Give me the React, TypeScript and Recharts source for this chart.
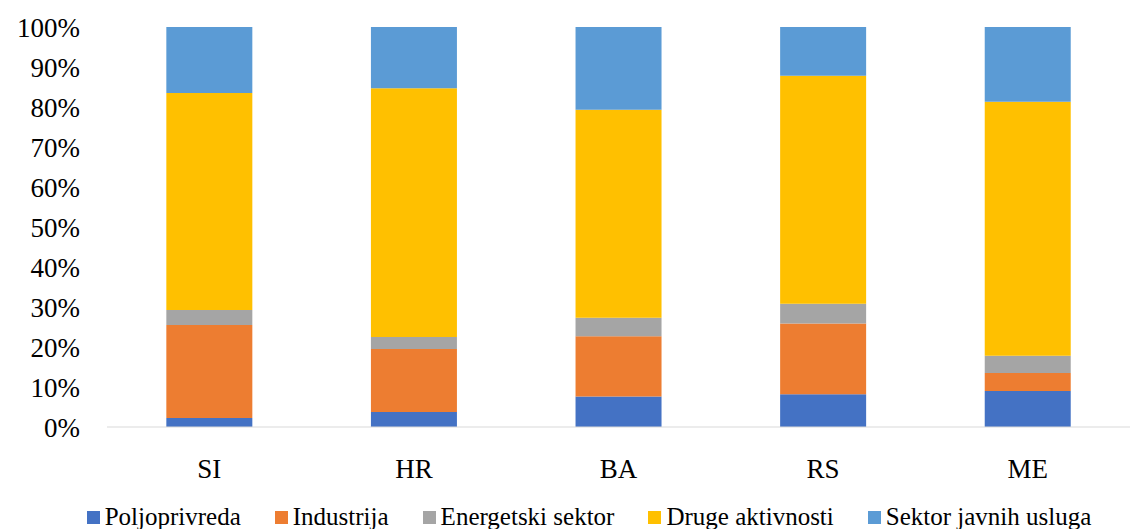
import React from 'react';
import { BarChart, Bar, XAxis, YAxis, Legend } from 'recharts';

const countries = ['SI', 'HR', 'BA', 'RS', 'ME'];
const poljoprivreda = [2.25, 3.75, 7.6, 8.2, 9.0];
const industrija = [23.25, 15.75, 15.1, 17.7, 4.5];
const energetski = [3.75, 3.0, 4.6, 4.9, 4.3];
const druge = [54.25, 62.2, 52.0, 57.0, 63.5];
const javne = [16.5, 15.3, 20.7, 12.2, 18.7];
const yTicks = [0, 0.1, 0.2, 0.3, 0.4, 0.5, 0.6, 0.7, 0.8, 0.9, 1];

const series = [
  { key: 'polj', name: 'Poljoprivreda', color: '#4472C4' },
  { key: 'ind', name: 'Industrija', color: '#ED7D31' },
  { key: 'energ', name: 'Energetski sektor', color: '#A5A5A5' },
  { key: 'druge', name: 'Druge aktivnosti', color: '#FFC000' },
  { key: 'javne', name: 'Sektor javnih usluga', color: '#5B9BD5' },
];

const data = countries.map((c, i) => ({
  name: c,
  polj: poljoprivreda[i],
  ind: industrija[i],
  energ: energetski[i],
  druge: druge[i],
  javne: javne[i],
}));

const font = '"Liberation Serif", serif';

const LegendContent = () => (
  <div style={{ display: 'flex', justifyContent: 'center', fontFamily: font, fontSize: 25, color: '#000', lineHeight: '28px' }}>
    {series.map((s) => (
      <span key={s.key} style={{ display: 'inline-flex', alignItems: 'center', margin: '0 17px' }}>
        <span style={{ width: 13, height: 13, background: s.color, marginRight: 5, display: 'inline-block' }} />
        {s.name}
      </span>
    ))}
  </div>
);

const App = () => {
  return (
    <div style={{ position: 'absolute', left: 0, top: 0, background: '#fff' }}>
      <BarChart
        width={1134}
        height={529}
        data={data}
        stackOffset="expand"
        barCategoryGap="29%"
        margin={{ top: 27, right: 4, left: 0, bottom: 44 }}
      >
        <XAxis
          dataKey="name"
          axisLine={{ stroke: '#d9d9d9' }}
          tickLine={false}
          tickSize={0}
          tickMargin={32}
          tick={{ fontFamily: font, fontSize: 27, fill: '#000' }}
        />
        <YAxis
          width={107}
          ticks={yTicks}
          domain={[0, 1]}
          axisLine={false}
          tickLine={false}
          tickSize={0}
          tickMargin={27}
          tickFormatter={(v: number) => `${Math.round(v * 100)}%`}
          tick={{ fontFamily: font, fontSize: 27, fill: '#000' }}
        />
        <Legend
          content={<LegendContent />}
          wrapperStyle={{ position: 'absolute', top: 503, bottom: 'auto', left: 22, width: 1134 }}
        />
        {series.map((s) => (
          <Bar key={s.key} dataKey={s.key} name={s.name} stackId="a" fill={s.color} isAnimationActive={false} />
        ))}
      </BarChart>
    </div>
  );
};

export default App;
